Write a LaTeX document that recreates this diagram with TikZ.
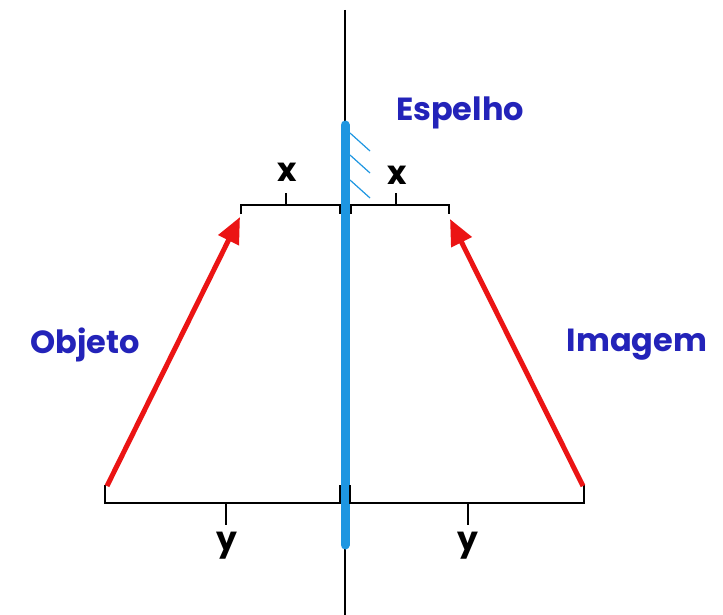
\documentclass[tikz,border=0pt]{standalone}
\usepackage{fontspec}
\setmainfont{Poppins}
\usetikzlibrary{arrows.meta,positioning,calc}
\definecolor{mirrorblue}{RGB}{30,150,225}
\definecolor{labelblue}{RGB}{35,35,185}
\definecolor{arrowred}{RGB}{235,20,20}
\begin{document}
\begin{tikzpicture}[x=1pt,y=-1pt,
 lbl/.style={text=labelblue,font=\fontsize{32}{38}\selectfont\bfseries,inner sep=0pt},
 dim/.style={text=black,font=\fontsize{33}{40}\selectfont\bfseries,inner sep=0pt},
 bracket/.style={draw=black,line width=2.4pt},
 ar/.style={draw=arrowred,line width=5pt,-{Triangle[length=26pt,width=22pt]}}]
\useasboundingbox (0,0) rectangle (723,615);
% eixo e espelho
\coordinate (axtop) at (345,10);
\coordinate (axbot) at (345,615);
\draw [line width=2pt] (axtop)--(axbot);
\coordinate (mtop) at (345,125);
\coordinate (mbot) at (345,545);
\draw [mirrorblue,line width=9pt,line cap=round] (mtop)--(mbot);
\foreach \y in {133,155,180}
 \draw [mirrorblue,line width=1.2pt] (350,\y)--++(20,18);
% distancias x
\draw [bracket] (241,214)--(241,205)--(340,205)--(340,214);
\draw [bracket] (286,205)--(286,193);
\draw [bracket] (351,214)--(351,205)--(449,205)--(449,214);
\draw [bracket] (396,205)--(396,193);
\node [dim] (x1) at (287,172) {x};
\node [dim] (x2) at (397,175) {x};
% distancias y
\draw [bracket] (105,485)--(105,503)--(340,503)--(340,485);
\draw [bracket] (226,503)--(226,525);
\draw [bracket] (350,485)--(350,503)--(584,503)--(584,485);
\draw [bracket] (468,503)--(468,525);
\node [dim] (y1) at (227,546) {y};
\node [dim] (y2) at (468,546) {y};
% objeto e imagem
\coordinate (obase) at (107,486);
\coordinate (otip) at (240,217);
\coordinate (ibase) at (583,486);
\coordinate (itip) at (450,219);
\path [ar] (obase)--(otip);
\path [ar] (ibase)--(itip);
\node [lbl] (obj) at (85,345) {Objeto};
\node [lbl] (img) at (637,345) {Imagem};
\node [lbl] (esp) at (460,113) {Espelho};
\end{tikzpicture}
\end{document}
